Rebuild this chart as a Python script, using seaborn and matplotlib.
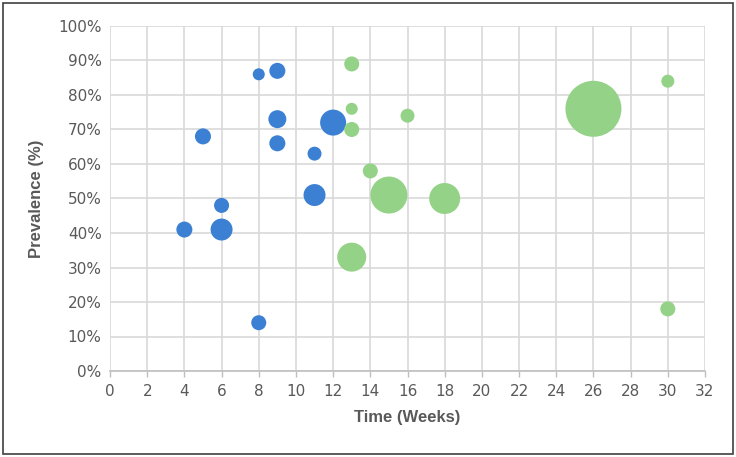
import matplotlib
matplotlib.use("Agg")
import matplotlib.pyplot as plt
import seaborn as sns
import pandas as pd
from matplotlib.patches import Rectangle
from matplotlib.ticker import FuncFormatter

# Data
blue_weeks = [4, 5, 6, 6, 8, 8, 9, 9, 9, 11, 11, 12]
blue_prev = [41, 68, 48, 41, 86, 14, 87, 73, 66, 63, 51, 72]
blue_size = [82, 82, 72, 154, 46, 72, 82, 103, 82, 62, 154, 216]

green_weeks = [13, 13, 13, 13, 14, 15, 16, 18, 26, 30, 30]
green_prev = [89, 76, 70, 33, 58, 51, 74, 50, 76, 84, 18]
green_size = [72, 46, 72, 268, 72, 437, 62, 306, 1000, 54, 72]

x_ticks = list(range(0, 33, 2))
y_ticks = list(range(0, 101, 10))

df = pd.DataFrame({
    "week": blue_weeks + green_weeks,
    "prev": blue_prev + green_prev,
    "size": blue_size + green_size,
    "group": ["blue"] * len(blue_weeks) + ["green"] * len(green_weeks),
})

sns.set_style("white")
plt.rcParams["font.family"] = ["Liberation Sans Narrow", "DejaVu Sans"]

fig = plt.figure(figsize=(7.36, 4.57), dpi=100)
ax = fig.add_axes([110 / 736, 1 - 371 / 457, 595 / 736, 345 / 457])

# area proportional to size value; max bubble ~56px diameter
k = (56 * 0.72) ** 2 / 1000.0
smin, smax = min(df["size"]), max(df["size"])
sns.scatterplot(data=df, x="week", y="prev", hue="group", size="size",
                palette={"blue": "#3C80D4", "green": "#94D287"},
                sizes=(k * smin, k * smax), size_norm=(smin, smax),
                linewidth=0, alpha=1, legend=False, ax=ax, zorder=3)

ax.set_xlim(0, 32)
ax.set_ylim(0, 100)
ax.set_xticks(x_ticks)
ax.set_yticks(y_ticks)
ax.yaxis.set_major_formatter(FuncFormatter(lambda v, p: f"{int(v)}%"))
ax.grid(True, color="#D9D9D9", linewidth=1.2, zorder=0)
ax.set_axisbelow(True)
for s in ["top", "right", "left"]:
    ax.spines[s].set_visible(False)
ax.spines["bottom"].set_color("#BFBFBF")
ax.spines["bottom"].set_linewidth(1.2)
ax.tick_params(axis="x", length=4, color="#BFBFBF", width=1, labelsize=11,
               labelcolor="#595959", pad=5, bottom=True)
ax.tick_params(axis="y", length=0, labelsize=11, labelcolor="#595959", pad=6)

ax.set_xlabel("Time (Weeks)", fontsize=12, fontweight="bold", color="#595959",
              family=["Liberation Sans", "DejaVu Sans"], labelpad=8)
ax.set_ylabel("Prevalence (%)", fontsize=12, fontweight="bold", color="#595959",
              family=["Liberation Sans", "DejaVu Sans"], labelpad=10)

fig.patches.append(Rectangle((3 / 736, 3 / 457), 730 / 736, 451 / 457,
                             transform=fig.transFigure, fill=False,
                             edgecolor="#404040", linewidth=1.2))

fig.savefig("out.png", dpi=100)
